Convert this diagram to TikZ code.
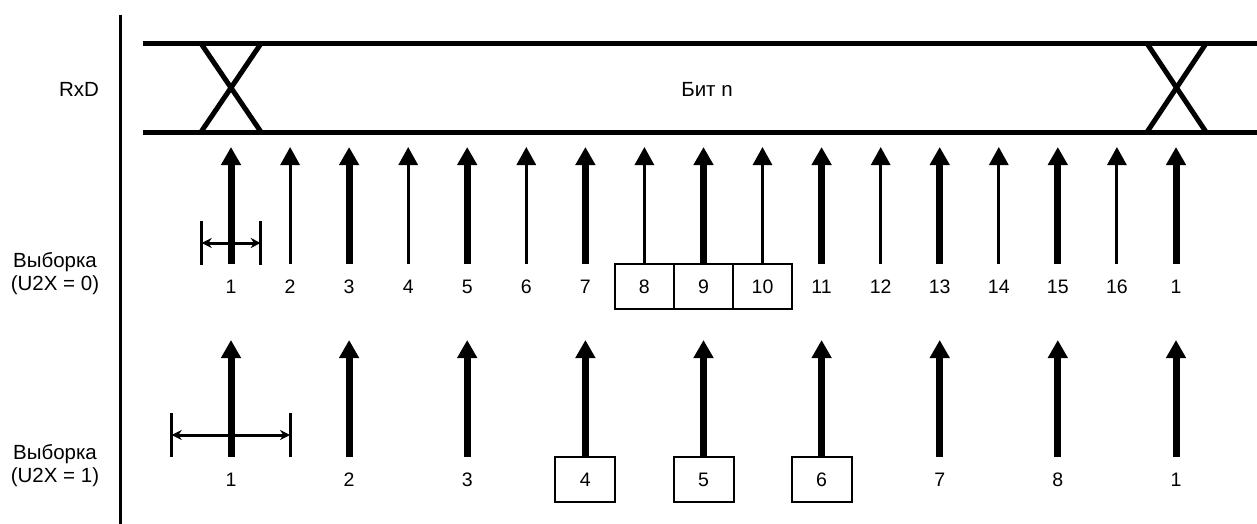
\documentclass[tikz,border=0pt]{standalone}
\usepackage{fontspec}
\setmainfont{Liberation Sans}
\usetikzlibrary{arrows.meta}

\begin{document}
\begin{tikzpicture}[x=1pt,y=-1pt,>=Stealth,font=\fontsize{19.5}{23}\selectfont,
  thick arrow/.style={line width=7pt,-{Triangle[width=19pt,length=18pt]}},
  thin arrow/.style={line width=3pt,-{Triangle[width=19pt,length=18pt]}},
  num/.style={minimum width=59pt,minimum height=45pt,inner sep=0pt,text height=14pt,text depth=0pt},
  numbox/.style={num,draw,line width=2pt},
  bar/.style={line width=3pt},
  span/.style={line width=3pt,{Stealth[length=10pt,width=10pt]}-{Stealth[length=10pt,width=10pt]}},
  rail/.style={line width=5pt}]
\useasboundingbox (0,0) rectangle (1257,524);

% axis and row titles
\draw[line width=3pt] (120.5,15) -- (120.5,524);
\node[font=\fontsize{20.5}{24}\selectfont] (rxd) at (79,89) {RxD};
\node[font=\fontsize{20.5}{23}\selectfont, align=center] (s0) at (55,273.5) {Выборка\\(U2X = 0)};
\node[font=\fontsize{20.5}{23}\selectfont, align=center] (s1) at (55,466) {Выборка\\(U2X = 1)};

% RxD line
\draw[rail] (143,43.5) -- (1257,43.5);
\draw[rail] (143,132) -- (1257,132);
\draw[rail] (201,43.5) -- (261,132);
\draw[rail] (261,43.5) -- (201,132);
\draw[rail] (1147,43.5) -- (1206,132);
\draw[rail] (1206,43.5) -- (1147,132);
\node[font=\fontsize{20.5}{24}\selectfont] (bit) at (707,89) {Бит n};

\coordinate (top0) at (0,147);
\coordinate (top1) at (0,340);

% samples, U2X = 0
\node[num] (a1) at (231,286.5) {1};
\node[num] (a2) at (290.1,286.5) {2};
\node[num] (a3) at (349.1,286.5) {3};
\node[num] (a4) at (408.2,286.5) {4};
\node[num] (a5) at (467.2,286.5) {5};
\node[num] (a6) at (526.3,286.5) {6};
\node[num] (a7) at (585.4,286.5) {7};
\node[numbox] (a8) at (644.4,286.5) {8};
\node[numbox] (a9) at (703.5,286.5) {9};
\node[numbox] (a10) at (762.5,286.5) {10};
\node[num] (a11) at (821.6,286.5) {11};
\node[num] (a12) at (880.7,286.5) {12};
\node[num] (a13) at (939.7,286.5) {13};
\node[num] (a14) at (998.8,286.5) {14};
\node[num] (a15) at (1057.8,286.5) {15};
\node[num] (a16) at (1116.9,286.5) {16};
\node[num] (a17) at (1176,286.5) {1};

\draw[thick arrow] (a1.north) -- (a1 |- top0);
\draw[thin arrow] (a2.north) -- (a2 |- top0);
\draw[thick arrow] (a3.north) -- (a3 |- top0);
\draw[thin arrow] (a4.north) -- (a4 |- top0);
\draw[thick arrow] (a5.north) -- (a5 |- top0);
\draw[thin arrow] (a6.north) -- (a6 |- top0);
\draw[thick arrow] (a7.north) -- (a7 |- top0);
\draw[thin arrow] (a8.north) -- (a8 |- top0);
\draw[thick arrow] (a9.north) -- (a9 |- top0);
\draw[thin arrow] (a10.north) -- (a10 |- top0);
\draw[thick arrow] (a11.north) -- (a11 |- top0);
\draw[thin arrow] (a12.north) -- (a12 |- top0);
\draw[thick arrow] (a13.north) -- (a13 |- top0);
\draw[thin arrow] (a14.north) -- (a14 |- top0);
\draw[thick arrow] (a15.north) -- (a15 |- top0);
\draw[thin arrow] (a16.north) -- (a16 |- top0);
\draw[thick arrow] (a17.north) -- (a17 |- top0);

% width of one sample, U2X = 0
\coordinate (sl0) at (201.7,243);
\coordinate (sr0) at (260.7,243);
\draw[bar] (201.7,221) -- (201.7,265);
\draw[bar] (260.7,221) -- (260.7,265);
\draw[span] (sl0) -- (sr0);

% samples, U2X = 1
\node[num] (b1) at (231,479.5) {1};
\node[num] (b2) at (349.1,479.5) {2};
\node[num] (b3) at (467.2,479.5) {3};
\node[numbox, minimum width=60pt] (b4) at (585.4,479.5) {4};
\node[numbox, minimum width=60pt] (b5) at (703.5,479.5) {5};
\node[numbox, minimum width=60pt] (b6) at (821.6,479.5) {6};
\node[num] (b7) at (939.7,479.5) {7};
\node[num] (b8) at (1057.8,479.5) {8};
\node[num] (b9) at (1176,479.5) {1};

\draw[thick arrow] (b1.north) -- (b1 |- top1);
\draw[thick arrow] (b2.north) -- (b2 |- top1);
\draw[thick arrow] (b3.north) -- (b3 |- top1);
\draw[thick arrow] (b4.north) -- (b4 |- top1);
\draw[thick arrow] (b5.north) -- (b5 |- top1);
\draw[thick arrow] (b6.north) -- (b6 |- top1);
\draw[thick arrow] (b7.north) -- (b7 |- top1);
\draw[thick arrow] (b8.north) -- (b8 |- top1);
\draw[thick arrow] (b9.north) -- (b9 |- top1);

% width of one sample, U2X = 1
\coordinate (sl1) at (171.7,435);
\coordinate (sr1) at (290,435);
\draw[bar] (171.7,413) -- (171.7,457);
\draw[bar] (290,413) -- (290,457);
\draw[span] (sl1) -- (sr1);
\end{tikzpicture}
\end{document}
